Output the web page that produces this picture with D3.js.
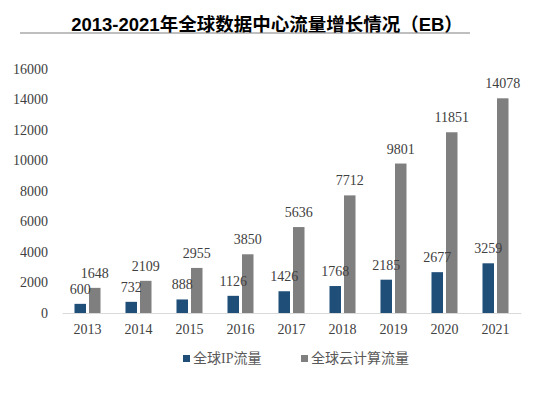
<!DOCTYPE html>
<html>
<head>
<meta charset="utf-8">
<script src="https://cdn.jsdelivr.net/npm/d3@7"></script>
<style>
  body { margin: 0; background: #fff; }
  svg { display: block; }
</style>
</head>
<body>
<svg id="chart"></svg>
<script>
(function () {

  var width = 543, height = 395;

  // data
  var years = ['2013', '2014', '2015', '2016', '2017', '2018', '2019', '2020', '2021'];
  var ipTraffic = [600, 732, 888, 1126, 1426, 1768, 2185, 2677, 3259];
  var cloudTraffic = [1648, 2109, 2955, 3850, 5636, 7712, 9801, 11851, 14078];
  var seriesNames = ['全球IP流量', '全球云计算流量'];
  var seriesColors = ['#1f4e79', '#7f7f7f'];
  var yTicks = [0, 2000, 4000, 6000, 8000, 10000, 12000, 14000, 16000];

  var svg = d3.select('#chart')
    .attr('width', width)
    .attr('height', height);

  var serif = '"Liberation Serif", "Times New Roman", serif';
  var cjk = '"Liberation Serif", "Noto Sans CJK SC", serif';

  // title
  svg.append('text')
    .attr('x', 267)
    .attr('y', 31)
    .attr('text-anchor', 'middle')
    .style('font-family', '"Liberation Sans", Arial, "Noto Sans CJK SC", sans-serif')
    .style('font-weight', 'bold')
    .style('font-size', '18.5px')
    .attr('fill', '#000')
    .text('2013-2021年全球数据中心流量增长情况（EB）');

  svg.append('line')
    .attr('x1', 20).attr('x2', 470)
    .attr('y1', 33).attr('y2', 33)
    .attr('stroke', '#808080')
    .attr('stroke-width', 1.2);

  var x0 = d3.scaleBand()
    .domain(years)
    .range([62, 521])
    .paddingInner(0.49)
    .paddingOuter(0.245);

  var x1 = d3.scaleBand()
    .domain([0, 1])
    .range([0, x0.bandwidth()])
    .paddingInner(0.207);

  var y = d3.scaleLinear()
    .domain([0, 16000])
    .range([313, 69]);

  // y axis labels (no line)
  var yAxis = svg.append('g')
    .attr('transform', 'translate(52,0)')
    .call(d3.axisLeft(y).tickValues(yTicks).tickFormat(d3.format('d')).tickSize(0).tickPadding(4));
  yAxis.select('.domain').remove();
  yAxis.selectAll('text')
    .style('font-family', serif)
    .style('font-size', '14px')
    .attr('fill', '#404040');

  // bars
  var rows = years.map(function (yr, i) {
    return { year: yr, values: [ipTraffic[i], cloudTraffic[i]] };
  });

  var groups = svg.selectAll('.grp')
    .data(rows)
    .join('g')
    .attr('class', 'grp')
    .attr('transform', function (d) { return 'translate(' + x0(d.year) + ',0)'; });

  groups.selectAll('rect')
    .data(function (d) { return d.values.map(function (v, k) { return { k: k, v: v }; }); })
    .join('rect')
    .attr('x', function (d) { return x1(d.k); })
    .attr('width', x1.bandwidth())
    .attr('y', function (d) { return y(d.v); })
    .attr('height', function (d) { return y(0) - y(d.v); })
    .attr('fill', function (d) { return seriesColors[d.k]; });

  groups.selectAll('text.lbl')
    .data(function (d) { return d.values.map(function (v, k) { return { k: k, v: v }; }); })
    .join('text')
    .attr('class', 'lbl')
    .attr('x', function (d) { return x1(d.k) + x1.bandwidth() / 2; })
    .attr('y', function (d) { return y(d.v) - 10; })
    .attr('text-anchor', 'middle')
    .style('font-family', serif)
    .style('font-size', '14px')
    .attr('fill', '#404040')
    .text(function (d) { return d.v; });

  // x axis
  var xAxis = svg.append('g')
    .attr('transform', 'translate(0,' + y(0) + ')')
    .call(d3.axisBottom(x0).tickSize(0).tickPadding(11));
  xAxis.select('.domain')
    .attr('stroke', '#d9d9d9')
    .attr('stroke-width', 1.2);
  xAxis.selectAll('text')
    .style('font-family', serif)
    .style('font-size', '14px')
    .attr('fill', '#404040');

  // legend
  var legendX = [183, 301];
  var legend = svg.selectAll('.leg')
    .data(seriesNames)
    .join('g')
    .attr('class', 'leg')
    .attr('transform', function (d, i) { return 'translate(' + legendX[i] + ',355)'; });

  legend.append('rect')
    .attr('width', 7).attr('height', 7)
    .attr('fill', function (d, i) { return seriesColors[i]; });

  legend.append('text')
    .attr('x', 10)
    .attr('y', 8)
    .style('font-family', cjk)
    .style('font-size', '14px')
    .attr('fill', '#595959')
    .text(function (d) { return d; });

})();
</script>
</body>
</html>
